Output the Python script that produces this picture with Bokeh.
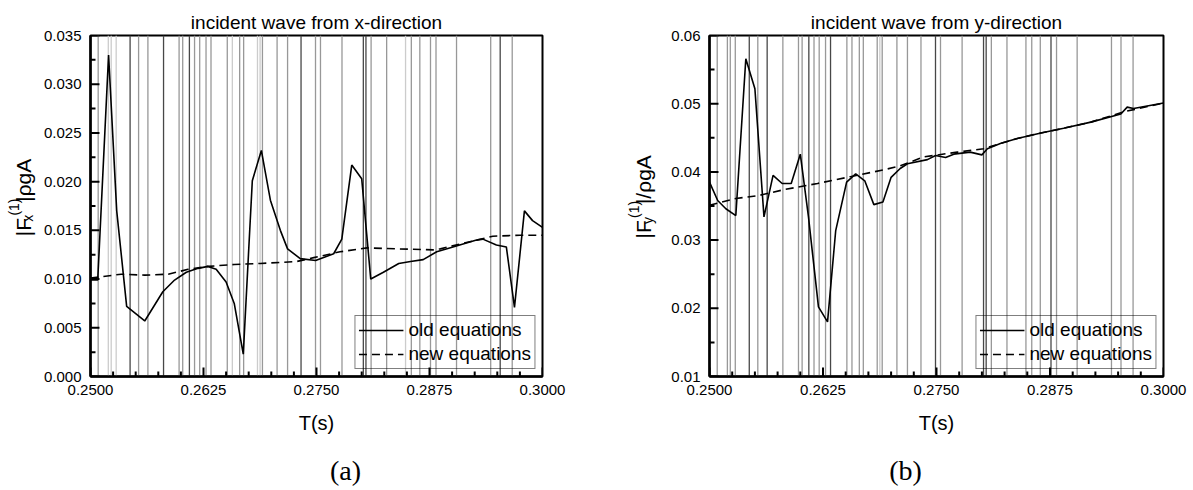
import math
from bokeh.plotting import figure
from bokeh.models import Range1d, FixedTicker, NumeralTickFormatter, ColumnDataSource
from bokeh.layouts import row, column
from bokeh.core.properties import value
from bokeh.embed import file_html
from bokeh.resources import INLINE

# ---------------- data ----------------
X_TICKS = [0.2500, 0.2625, 0.2750, 0.2875, 0.3000]
Y_TICKS_A = [0.000, 0.005, 0.010, 0.015, 0.020, 0.025, 0.030, 0.035]
Y_TICKS_B = [0.01, 0.02, 0.03, 0.04, 0.05, 0.06]

# old equations, incident wave from x-direction
T_OLD_A = [0.2500, 0.2508, 0.2520, 0.2529, 0.2540, 0.2560, 0.2580, 0.2593, 0.2606, 0.2619,
           0.2630, 0.2639, 0.2650, 0.2659, 0.2669, 0.2679, 0.2689, 0.2699, 0.2710, 0.2718,
           0.2732, 0.2749, 0.2769, 0.2778, 0.2789, 0.2800, 0.2810, 0.2824, 0.2841, 0.2854,
           0.2868, 0.2883, 0.2901, 0.2927, 0.2934, 0.2949, 0.2960, 0.2969, 0.2980, 0.2989, 0.3000]
V_OLD_A = [0.0099, 0.0099, 0.0330, 0.0170, 0.0072, 0.0057, 0.0087, 0.0099, 0.0107, 0.0111,
           0.0113, 0.0110, 0.0097, 0.0075, 0.0023, 0.0201, 0.0232, 0.0181, 0.0150, 0.0131,
           0.0121, 0.0119, 0.0126, 0.0141, 0.0217, 0.0203, 0.0100, 0.0107, 0.0116, 0.0118,
           0.0120, 0.0128, 0.0133, 0.0140, 0.0141, 0.0135, 0.0133, 0.0071, 0.0170, 0.0160, 0.0153]
# new equations, incident wave from x-direction
T_NEW_A = [0.2500, 0.2534, 0.2560, 0.2586, 0.2608, 0.2630, 0.2659, 0.2688, 0.2728, 0.2747,
           0.2776, 0.2806, 0.2839, 0.2879, 0.2887, 0.2909, 0.2927, 0.2945, 0.2975, 0.3000]
V_NEW_A = [0.0101, 0.0105, 0.0104, 0.0105, 0.0110, 0.0113, 0.0115, 0.0116, 0.0118, 0.0122,
           0.0128, 0.0132, 0.0131, 0.0130, 0.0131, 0.0136, 0.0140, 0.0144, 0.0145, 0.0145]

# old equations, incident wave from y-direction
T_OLD_B = [0.2500, 0.2509, 0.2518, 0.2529, 0.2540, 0.2550, 0.2560, 0.2570, 0.2580, 0.2590,
           0.2600, 0.2609, 0.2620, 0.2630, 0.2639, 0.2651, 0.2661, 0.2671, 0.2681, 0.2691,
           0.2700, 0.2710, 0.2718, 0.2740, 0.2749, 0.2760, 0.2769, 0.2787, 0.2800, 0.2806,
           0.2821, 0.2839, 0.2865, 0.2890, 0.2920, 0.2953, 0.2960, 0.2967, 0.3000]
V_OLD_B = [0.0385, 0.0358, 0.0346, 0.0336, 0.0566, 0.0522, 0.0334, 0.0395, 0.0383, 0.0383,
           0.0426, 0.0334, 0.0202, 0.0180, 0.0314, 0.0385, 0.0397, 0.0387, 0.0352, 0.0356,
           0.0392, 0.0405, 0.0412, 0.0418, 0.0424, 0.0421, 0.0426, 0.0429, 0.0425, 0.0434,
           0.0442, 0.0449, 0.0457, 0.0464, 0.0473, 0.0485, 0.0495, 0.0493, 0.0501]
# new equations, incident wave from y-direction
T_NEW_B = [0.2500, 0.2529, 0.2553, 0.2582, 0.2619, 0.2655, 0.2692, 0.2710, 0.2736, 0.2773,
           0.2802, 0.2821, 0.2839, 0.2865, 0.2890, 0.2920, 0.2956, 0.3000]
V_NEW_B = [0.0351, 0.0361, 0.0365, 0.0374, 0.0383, 0.0393, 0.0403, 0.0409, 0.0422, 0.0429,
           0.0434, 0.0442, 0.0449, 0.0457, 0.0464, 0.0473, 0.0488, 0.0501]

# periods of the vertical marker lines (same in both panels)
T_MARKS = [0.25085, 0.25197, 0.25229, 0.25284, 0.25438, 0.25532, 0.25635, 0.25808, 0.25980, 0.26020,
           0.26094, 0.26151, 0.26208, 0.26278, 0.26333, 0.26513, 0.26569, 0.26650, 0.26694, 0.26847,
           0.26876, 0.26902, 0.27064, 0.27180, 0.27329, 0.27489, 0.27544, 0.27782, 0.28018, 0.28047,
           0.28104, 0.28276, 0.28485, 0.28549, 0.28643, 0.28761, 0.28822, 0.29049, 0.29427, 0.29532,
           0.29665]

# ---------------- style ----------------
SHADE = {"d": "#474747", "m": "#989898", "l": "#cccccc"}
MARK_SHADES_A = "mllldmmdmmdmmmmmlmmllmmmdmmmddmmlmmmmmmdm"
MARK_SHADES_B = "mmmmdmdmmmdmmmdmmmmmlmmmmdmmddmmmmmdmmmmm"

FONT = "Liberation Sans"
FT, FH = 35, 341          # frame top / height (px)
ROW_H = 445               # height of the plotting row
CAP_H = 490 - ROW_H       # height of the caption strip
LAB_A_W = 40              # width of the strip holding the left y label
LAB_B_W = 64              # width of the strip holding the right y label


def bare_figure(w, h):
    f = figure(width=w, height=h, output_backend="svg", toolbar_location=None,
               x_range=Range1d(0, w), y_range=Range1d(0, h),
               x_axis_location=None, y_axis_location=None,
               min_border=0, min_border_left=0, min_border_right=0,
               min_border_top=0, min_border_bottom=0)
    f.xgrid.visible = False
    f.ygrid.visible = False
    f.outline_line_color = None
    f.background_fill_color = "white"
    f.border_fill_color = "white"
    return f


def make_panel(width, fl, fw, yr, yticks, yfmt, title, shades, t_old, v_old, t_new, v_new):
    xr = (X_TICKS[0], X_TICKS[-1])
    p = figure(width=width, height=ROW_H, output_backend="svg", toolbar_location=None,
               x_range=Range1d(*xr), y_range=Range1d(*yr),
               min_border_left=fl, min_border_right=width - fl - fw,
               min_border_top=FT, min_border_bottom=ROW_H - FT - FH)
    p.xgrid.visible = False
    p.ygrid.visible = False
    p.outline_line_color = "black"
    p.outline_line_width = 2
    p.background_fill_color = "white"
    p.border_fill_color = "white"

    p.title.text = title
    p.title.align = "center"
    p.title.text_font = FONT
    p.title.text_font_size = "19px"
    p.title.text_font_style = "normal"
    p.title.text_color = "black"
    p.title.standoff = 6

    # vertical marker lines
    n = len(T_MARKS)
    src = ColumnDataSource(dict(x=T_MARKS, y0=[yr[0]] * n, y1=[yr[1]] * n,
                                c=[SHADE[s] for s in shades]))
    p.segment(x0="x", x1="x", y0="y0", y1="y1", line_color="c", line_width=1.3, source=src)

    p.line(t_old, v_old, line_color="black", line_width=1.6, legend_label="old equations")
    p.line(t_new, v_new, line_color="black", line_width=1.6, line_dash="8 5",
           legend_label="new equations")

    # axes
    xminor = [round(X_TICKS[0] + 0.0025 * i, 5) for i in range(21)]
    step = yticks[1] - yticks[0]
    yminor = [round(yticks[0] + step * 0.5 * i, 6) for i in range(2 * (len(yticks) - 1) + 1)]
    p.xaxis.ticker = FixedTicker(ticks=X_TICKS, minor_ticks=xminor)
    p.yaxis.ticker = FixedTicker(ticks=yticks, minor_ticks=yminor)
    p.xaxis.formatter = NumeralTickFormatter(format="0.0000")
    p.yaxis.formatter = NumeralTickFormatter(format=yfmt)
    for ax in (p.xaxis[0], p.yaxis[0]):
        ax.axis_line_color = "black"
        ax.axis_line_width = 2.5
        ax.major_tick_in = 0
        ax.major_tick_out = 0
        ax.minor_tick_in = 0
        ax.minor_tick_out = 0
        ax.major_label_text_font = FONT
        ax.major_label_text_font_size = "15px"
        ax.major_label_text_color = "black"
    p.xaxis.major_label_standoff = 8
    p.yaxis.major_label_standoff = 9
    p.xaxis.axis_label = "T(s)"
    p.xaxis.axis_label_text_font = FONT
    p.xaxis.axis_label_text_font_size = "20px"
    p.xaxis.axis_label_text_font_style = "normal"
    p.xaxis.axis_label_text_color = "black"
    p.xaxis.axis_label_standoff = 14

    # inward tick marks, drawn on the axes' tick positions
    xs = xr[1] - xr[0]
    ys = yr[1] - yr[0]
    mx = [t for t in xminor if t not in X_TICKS]
    my = [t for t in yminor if t not in yticks]
    p.segment(x0=X_TICKS, x1=X_TICKS, y0=[yr[0]] * len(X_TICKS),
              y1=[yr[0] + 9 / FH * ys] * len(X_TICKS), line_color="black", line_width=2)
    p.segment(x0=mx, x1=mx, y0=[yr[0]] * len(mx),
              y1=[yr[0] + 5 / FH * ys] * len(mx), line_color="black", line_width=2)
    p.segment(x0=[xr[0]] * len(yticks), x1=[xr[0] + 9 / fw * xs] * len(yticks),
              y0=yticks, y1=yticks, line_color="black", line_width=2)
    p.segment(x0=[xr[0]] * len(my), x1=[xr[0] + 5 / fw * xs] * len(my),
              y0=my, y1=my, line_color="black", line_width=2)

    lg = p.legend[0]
    lg.location = "bottom_right"
    lg.margin = 7
    lg.padding = 3
    lg.spacing = 2
    lg.glyph_width = 45
    lg.glyph_height = 20
    lg.label_height = 20
    lg.label_standoff = 5
    lg.label_text_font = FONT
    lg.label_text_font_size = "19px"
    lg.label_text_color = "black"
    lg.border_line_color = "black"
    lg.border_line_width = 1.5
    lg.background_fill_alpha = 0.0
    return p


def ylabel(f, bx, y0, sub, tail):
    """Rotated label |F_sub^(1)tail composed of pieces; bx/y0 given in canvas px of the strip."""
    a = math.pi / 2
    big = dict(angle=a, text_font=value(FONT), text_font_size=value("21px"),
               text_align="left", text_baseline="alphabetic", text_color="black")
    small = dict(big, text_font_size=value("14px"))
    f.text(x=[bx], y=[ROW_H - y0], text=["|F"], **big)
    f.text(x=[bx + 4], y=[ROW_H - (y0 - 19)], text=[sub], **small)
    f.text(x=[bx - 10], y=[ROW_H - (y0 - 27)], text=["(1)"], **small)
    f.text(x=[bx], y=[ROW_H - (y0 - 45)], text=[tail], **big)


pa = make_panel(596 - LAB_A_W, 89 - LAB_A_W, 453, (0.0, 0.035), Y_TICKS_A, "0.000",
                "incident wave from x-direction", MARK_SHADES_A,
                T_OLD_A, V_OLD_A, T_NEW_A, V_NEW_A)
pb = make_panel(1193 - 596 - LAB_B_W, 709 - 596 - LAB_B_W, 454, (0.01, 0.06), Y_TICKS_B, "0.00",
                "incident wave from y-direction", MARK_SHADES_B,
                T_OLD_B, V_OLD_B, T_NEW_B, V_NEW_B)

la = bare_figure(LAB_A_W, ROW_H)
ylabel(la, 23, 262, "x", "|ρgA")
lb = bare_figure(LAB_B_W, ROW_H)
ylabel(lb, 643 - 596, 265, "y", "|/ρgA")

cap = bare_figure(1193, CAP_H)
cap.text(x=[345, 905], y=[CAP_H - (470 - ROW_H)] * 2, text=["(a)", "(b)"],
         text_font=value("Liberation Serif"), text_font_size=value("28px"),
         text_align="center", text_baseline="middle", text_color="black")

layout = column(row(la, pa, lb, pb), cap)
open("out.html", "w").write(file_html(layout, INLINE))
